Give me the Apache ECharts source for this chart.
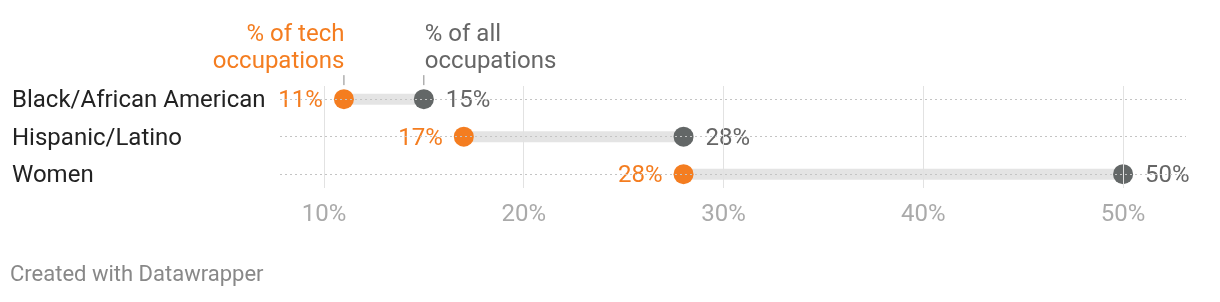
<!DOCTYPE html>
<html><head><meta charset="utf-8">
<script src="https://cdn.jsdelivr.net/npm/echarts@6/dist/echarts.min.js"></script>
<style>html,body{margin:0;padding:0;background:#fff}#c{width:1220px;height:302px}</style>
</head><body><div id="c"></div>
<script>
const categories = ['Black/African American', 'Hispanic/Latino', 'Women'];
const techShare = [11, 17, 28];
const allShare = [15, 28, 50];
const xTicks = [10, 20, 30, 40, 50];
const techTitle = '% of tech\noccupations';
const allTitle = '% of all\noccupations';

const FONT = 'Roboto';
const ORANGE = '#f47d20';
const GRAY = '#636767';
const rowIdx = categories.map((c, i) => i);

const chart = echarts.init(document.getElementById('c'), null, {renderer: 'canvas'});
const option = {
  animation: false,
  textStyle: {fontFamily: FONT},
  grid: {left: 280, right: 34, top: 86, bottom: 114},
  xAxis: {
    type: 'value', min: 7.8, max: 53.15,
    splitLine: {show: false}, axisLine: {show: false}, axisTick: {show: false},
    axisLabel: {customValues: xTicks, formatter: '{value}%', color: '#aaaaaa', fontSize: 24, margin: 15, fontFamily: FONT}
  },
  yAxis: {
    type: 'value', inverse: true, min: -0.35, max: 2.37,
    splitLine: {show: false}, axisLine: {show: false}, axisTick: {show: false},
    axisLabel: {customValues: rowIdx.map(i => i + 0.05), formatter: v => categories[Math.round(v)] || '', align: 'left', margin: 268, color: '#222222', fontSize: 24, fontFamily: FONT}
  },
  series: [
    {
      type: 'scatter', data: [], silent: true, z: 1,
      markLine: {
        silent: true, symbol: 'none', label: {show: false},
        lineStyle: {color: '#e2e2e2', width: 1, type: 'solid'},
        data: xTicks.map(v => ({xAxis: v}))
      }
    },
    {
      type: 'scatter', data: [], silent: true, z: 1,
      markLine: {
        silent: true, symbol: 'none', label: {show: false},
        lineStyle: {color: '#c4c4c4', width: 1, type: [2, 3]},
        data: rowIdx.map(v => ({yAxis: v}))
      }
    },
    {
      type: 'custom', z: 2, silent: true,
      data: rowIdx.map(i => [techShare[i], allShare[i], i]),
      renderItem: function (params, api) {
        const a = api.coord([api.value(0), api.value(2)]);
        const b = api.coord([api.value(1), api.value(2)]);
        const h = 11;
        return {type: 'rect', shape: {x: a[0], y: a[1] - h / 2, width: b[0] - a[0], height: h}, style: {fill: '#e4e4e4'}};
      },
      encode: {x: [0, 1], y: 2}
    },
    {
      type: 'scatter', z: 3, symbolSize: 20, itemStyle: {color: ORANGE, opacity: 1},
      data: rowIdx.map(i => [techShare[i], i]),
      label: {show: true, position: 'left', distance: 11, offset: [0, 2], formatter: p => p.value[0] + '%', color: ORANGE, fontSize: 24, fontFamily: FONT}
    },
    {
      type: 'scatter', z: 3, symbolSize: 20, itemStyle: {color: GRAY, opacity: 1},
      data: rowIdx.map(i => [allShare[i], i]),
      label: {show: true, position: 'right', distance: 12, offset: [0, 2], formatter: p => p.value[0] + '%', color: '#666666', fontSize: 24, fontFamily: FONT}
    }
  ]
};
chart.setOption(option);

const p1 = chart.convertToPixel({gridIndex: 0}, [techShare[0], 0]);
const p2 = chart.convertToPixel({gridIndex: 0}, [allShare[0], 0]);
chart.setOption({
  graphic: [
    {type: 'text', x: p1[0] + 0.5, y: 21.5, style: {text: techTitle, fill: ORANGE, font: '24px ' + FONT, align: 'right', verticalAlign: 'top', lineHeight: 27}},
    {type: 'text', x: p2[0] + 1, y: 21.5, style: {text: allTitle, fill: '#666666', font: '24px ' + FONT, align: 'left', verticalAlign: 'top', lineHeight: 27}},
    {type: 'line', shape: {x1: p1[0], y1: p1[1] - 24, x2: p1[0], y2: p1[1] - 14}, style: {stroke: '#888888', lineWidth: 1}},
    {type: 'line', shape: {x1: p2[0], y1: p2[1] - 24, x2: p2[0], y2: p2[1] - 14}, style: {stroke: '#888888', lineWidth: 1}},
    {type: 'text', left: 10, top: 264, style: {text: 'Created with Datawrapper', fill: '#888888', font: '22px ' + FONT}}
  ]
});
</script></body></html>
